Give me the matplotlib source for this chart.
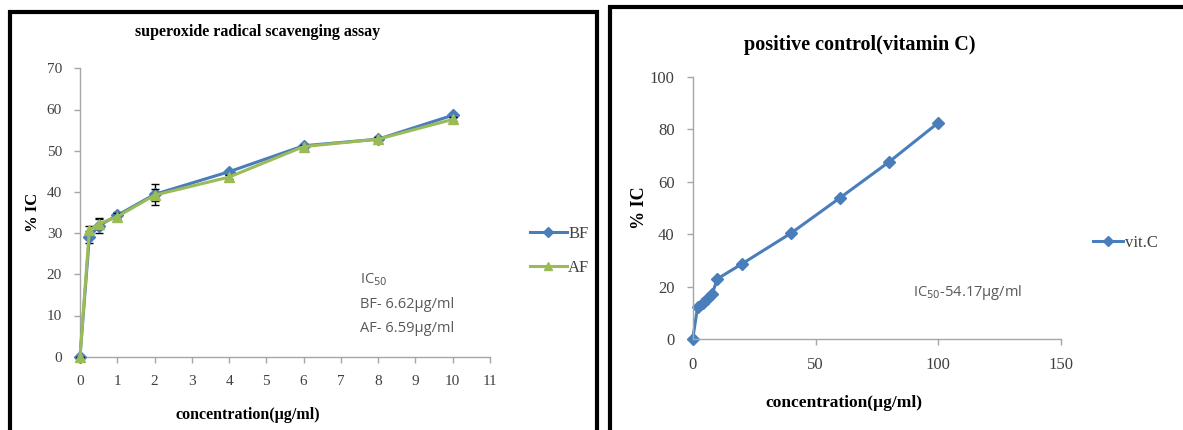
import matplotlib
matplotlib.use("Agg")
import matplotlib.pyplot as plt
from matplotlib.patches import Rectangle
from matplotlib.lines import Line2D

# ---- data ----
conc_sample = [0, 0.25, 0.5, 1, 2, 4, 6, 8, 10]
bf_values = [0, 29.0, 31.8, 34.3, 39.4, 44.9, 51.2, 52.8, 58.6]
af_values = [0, 30.7, 32.2, 34.0, 39.2, 43.6, 51.0, 52.8, 57.6]
bf_err = [0, 1.5, 1.8, 0.8, 2.5, 0.5, 0.5, 0.5, 0.5]
af_err = [0, 1.0, 1.2, 0.8, 1.5, 0.5, 0.5, 0.5, 0.5]

conc_vitc = [0, 2, 4, 6, 8, 10, 20, 40, 60, 80, 100]
vitc_values = [0, 12.4, 14.0, 15.5, 17.4, 23.0, 28.7, 40.4, 53.9, 67.6, 82.5]

left_xticks = list(range(0, 12))
left_yticks = list(range(0, 80, 10))
right_xticks = [0, 50, 100, 150]
right_yticks = [0, 20, 40, 60, 80, 100]

blue = "#4a7ebb"
green = "#9bbb59"
axis_gray = "#a6a6a6"
tick_text = "#404040"
serif = ["Liberation Serif", "DejaVu Serif"]
sans = ["Open Sans", "DejaVu Sans"]

W, H = 1183, 430
fig = plt.figure(figsize=(W / 100, H / 100), dpi=100)
fig.patch.set_facecolor("white")

def fx(px):
    return px / W

def fy(py):
    return 1 - py / H

def style_axes(ax):
    for s in ["top", "right"]:
        ax.spines[s].set_visible(False)
    for s in ["left", "bottom"]:
        ax.spines[s].set_color(axis_gray)
        ax.spines[s].set_linewidth(1.0)
    ax.tick_params(axis="both", direction="out", color=axis_gray, length=4,
                   width=1.0, labelcolor=tick_text)
    for lab in ax.get_xticklabels() + ax.get_yticklabels():
        lab.set_fontfamily(serif)

# ---- left chart ----
ax1 = fig.add_axes([fx(80), fy(356.7), fx(410), (356.7 - 68.3) / H])
for c in ax1.errorbar(conc_sample, bf_values, yerr=bf_err, color=blue, lw=2.2,
                      marker="D", ms=6, mfc=blue, mec=blue, ecolor="black",
                      elinewidth=1.0, capsize=3, label="BF", zorder=3).lines:
    pass
ax1.errorbar(conc_sample, af_values, yerr=af_err, color=green, lw=2.2,
             marker="^", ms=7, mfc=green, mec=green, ecolor="black",
             elinewidth=1.0, capsize=3, label="AF", zorder=4)
for ln in ax1.lines:
    ln.set_clip_on(False)
ax1.set_xlim(0, 11)
ax1.set_ylim(0, 70)
ax1.set_xticks(left_xticks)
ax1.set_yticks(left_yticks)
ax1.tick_params(axis="x", labelsize=11, pad=9)
ax1.tick_params(axis="y", labelsize=11, pad=9)
style_axes(ax1)
ax1.set_ylabel("% IC", fontfamily=serif, fontweight="bold", fontsize=12,
               labelpad=4)
fig.text(fx(248), fy(415), "concentration(µg/ml)", fontfamily=serif,
         fontweight="bold", fontsize=11.5, ha="center", va="center")
fig.text(fx(258), fy(32), "superoxide radical scavenging assay",
         fontfamily=serif, fontweight="bold", fontsize=11.5,
         ha="center", va="center")
ax1.text(360 / W, fy(280), "IC$_{50}$", transform=fig.transFigure,
         fontfamily=sans, fontsize=10.5, color="#595959", va="center")
ax1.text(360 / W, fy(305), "BF- 6.62µg/ml", transform=fig.transFigure,
         fontfamily=sans, fontsize=10.5, color="#595959", va="center")
ax1.text(360 / W, fy(328), "AF- 6.59µg/ml", transform=fig.transFigure,
         fontfamily=sans, fontsize=10.5, color="#595959", va="center")

handles1 = [Line2D([], [], color=blue, lw=2.2, marker="D", ms=5),
            Line2D([], [], color=green, lw=2.2, marker="^", ms=6)]
fig.legend(handles1, ["BF", "AF"], loc="center left",
           bbox_to_anchor=(fx(515), fy(251)), frameon=False,
           prop={"family": serif, "size": 12}, handlelength=2.2,
           handletextpad=0.1, labelspacing=1.1, labelcolor="#404040")

# ---- right chart ----
ax2 = fig.add_axes([fx(692.7), fy(339.3), fx(368.5), (339.3 - 76.7) / H])
ax2.plot(conc_vitc, vitc_values, color=blue, lw=2.2, marker="D", ms=6,
         mfc=blue, mec=blue, label="vit.C", clip_on=False)
ax2.set_xlim(0, 150)
ax2.set_ylim(0, 100)
ax2.set_xticks(right_xticks)
ax2.set_yticks(right_yticks)
ax2.tick_params(axis="x", labelsize=12, pad=9)
ax2.tick_params(axis="y", labelsize=12, pad=9)
style_axes(ax2)
ax2.set_ylabel("% IC", fontfamily=serif, fontweight="bold", fontsize=13,
               labelpad=1)
fig.text(fx(844), fy(403), "concentration(µg/ml)", fontfamily=serif,
         fontweight="bold", fontsize=12.5, ha="center", va="center")
fig.text(fx(860), fy(45), "positive control(vitamin C)", fontfamily=serif,
         fontweight="bold", fontsize=14.5, ha="center", va="center")
fig.text(fx(913), fy(293), "IC$_{50}$-54.17µg/ml", fontfamily=sans,
         fontsize=10.5, color="#595959", va="center")

handles2 = [Line2D([], [], color=blue, lw=2.2, marker="D", ms=5)]
fig.legend(handles2, ["vit.C"], loc="center left",
           bbox_to_anchor=(fx(1078), fy(243)), frameon=False,
           prop={"family": serif, "size": 12}, handlelength=1.8,
           handletextpad=0.1, labelcolor="#404040")

# ---- panel frames ----
fig.patches.append(Rectangle((fx(9.5), fy(470)), fx(597 - 9.5), (470 - 12) / H,
                             transform=fig.transFigure, fill=False,
                             edgecolor="black", lw=3.0))
fig.patches.append(Rectangle((fx(609.5), fy(470)), fx(1200 - 609.5), (470 - 6.5) / H,
                             transform=fig.transFigure, fill=False,
                             edgecolor="black", lw=3.0))

fig.savefig("out.png", dpi=100)
